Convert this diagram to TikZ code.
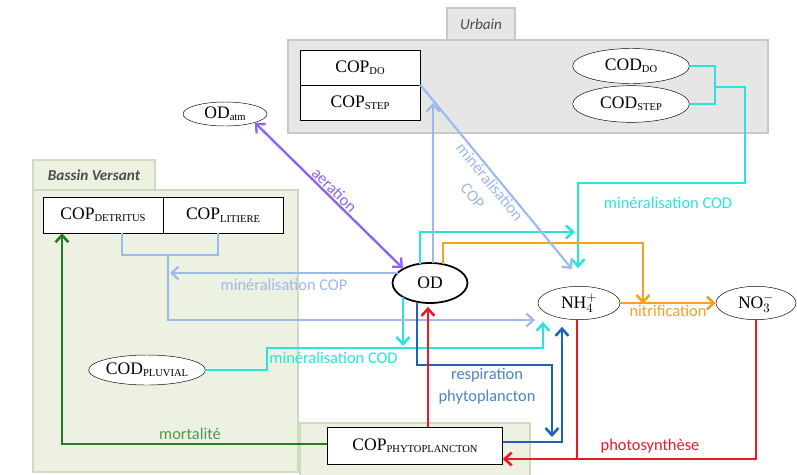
\documentclass[tikz,border=0pt]{standalone}
\usepackage{fontspec}
\setmainfont{Liberation Serif}
\newfontfamily\labfont{Carlito}
\usepackage{tikz}
\usetikzlibrary{shapes, arrows.meta, calc}

\definecolor{cyanf}{RGB}{40,228,222}
\definecolor{bleuclair}{RGB}{155,185,235}
\definecolor{orangef}{RGB}{245,160,35}
\definecolor{bleufonce}{RGB}{30,100,180}
\definecolor{rougef}{RGB}{235,25,35}
\definecolor{vertf}{RGB}{35,125,35}
\definecolor{violetf}{RGB}{140,100,240}
\definecolor{grisfond}{RGB}{230,230,230}
\definecolor{grisbord}{RGB}{200,200,200}
\definecolor{vertfond}{RGB}{237,241,226}
\definecolor{vertbord}{RGB}{208,218,190}

\newcommand{\ix}[1]{\raisebox{-0.3ex}{\fontsize{9}{10}\selectfont #1}}

\begin{document}
\begin{tikzpicture}[x=0.03cm, y=-0.03cm,
	etat/.style={ellipse, draw, fill=white, inner sep=0pt, font=\fontsize{15}{17}\selectfont},
	boite/.style={rectangle, draw, fill=white, inner sep=0pt, font=\fontsize{15}{17}\selectfont},
	lien/.style={line width=2.2pt},
	flux/.style={line width=2.2pt, -{Straight Barb[length=6pt,width=11pt]}},
	fluxb/.style={line width=1.8pt, bleuclair, -{Straight Barb[length=6pt,width=11pt]}},
	etiq/.style={font=\labfont\fontsize{14}{19}\selectfont, align=center, inner sep=1pt},
	onglet/.style={line width=1pt, inner sep=0pt, font=\labfont\itshape\fontsize{13}{15}\selectfont, text=black!70}]

		\useasboundingbox (0,0) rectangle (797,474);

		% groupes
		\filldraw[fill=grisfond, draw=grisbord, line width=1pt] (288,40) rectangle (768,133);
		\node[onglet, fill=grisfond, draw=grisbord, minimum width=2.04cm, minimum height=0.96cm] (urbain) at (481,24) {Urbain};
		\filldraw[fill=vertfond, draw=vertbord, line width=1pt] (33,190) rectangle (298,472);
		\filldraw[fill=vertfond, draw=vertbord, line width=1pt] (300,423) rectangle (530,480);
		\node[onglet, fill=vertfond, draw=vertbord, minimum width=3.66cm, minimum height=0.9cm, font=\labfont\bfseries\itshape\fontsize{13}{15}\selectfont] (bassin) at (94,175) {Bassin Versant};

		% compartiments
		\node[boite, minimum width=3.6cm, minimum height=1.05cm] (copdo) at (360,67.5) {COP\ix{DO}};
		\node[boite, minimum width=3.6cm, minimum height=1.05cm] (copstep) at (360,102.5) {COP\ix{STEP}};
		\node[etat, minimum width=3.5cm, minimum height=1.05cm] (coddo) at (631,66) {COD\ix{DO}};
		\node[etat, minimum width=3.5cm, minimum height=1.1cm] (codstep) at (631,104) {COD\ix{STEP}};
		\node[etat, minimum width=2.52cm, minimum height=0.72cm] (odatm) at (225,114) {OD\ix{atm}};
		\node[boite, minimum width=3.6cm, minimum height=1.08cm] (copdet) at (103,215) {COP\ix{DETRITUS}};
		\node[boite, minimum width=3.6cm, minimum height=1.08cm] (coplit) at (223,215) {COP\ix{LITIERE}};
		\node[etat, line width=1.5pt, minimum width=2.25cm, minimum height=1.2cm] (od) at (430,283) {OD};
		\node[etat, minimum width=2.46cm, minimum height=1.0cm] (nh4) at (579,303) {NH\(_4^+\)};
		\node[etat, minimum width=2.4cm, minimum height=1.0cm] (no3) at (756,303) {NO\(_3^-\)};
		\node[etat, minimum width=3.5cm, minimum height=0.9cm] (codpl) at (147,370) {COD\ix{PLUVIAL}};
		\node[boite, minimum width=5.25cm, minimum height=1.11cm] (cop) at (415,446) {COP\ix{PHYTOPLANCTON}};

		% mineralisation COD
		\coordinate (cj) at (715,87);
		\draw[lien, cyanf] (coddo.east) -| (cj) |- (codstep.east);
		\draw[flux, cyanf] (cj) -| (745,183) -| ($(nh4.north)+(-1,-18)$);
		\draw[flux, cyanf] ($(od.center)+(-10,-19)$) |- (575,232);
		\draw[flux, cyanf] (codpl.east) -| (267,348) -| ($(nh4.south)+(-36,2)$);
		\draw[flux, cyanf] ($(od.center)+(-27,14)$) -- (403,346);

		% nitrification
		\draw[flux, orangef] ($(od.center)+(13,-19)$) |- (643,243) -- (643,304);
		\draw[flux, orangef] (nh4.east) -- (no3.west) node[etiq, midway, below, text=orangef] (lnit) {nitrification};

		% aeration
		\draw[line width=2pt, violetf, {Straight Barb[length=6pt,width=11pt]}-{Straight Barb[length=6pt,width=11pt]}] (odatm.south east) -- (od.north west) node[etiq, midway, sloped, above, text=violetf] (laer) {aeration};

		% mineralisation COP
		\draw[fluxb] (copstep.north east) -- ($(nh4.north)+(-7,-17)$) node[etiq, midway, sloped, below, text=bleuclair] (lcop1) {minéralisation\\COP};
		\draw[fluxb] ($(od.center)+(3,-20)$) -- (433,103);
		\draw[fluxb] ($(od.center)+(-32,-10)$) -- (170,273) node[etiq, midway, below=3pt, text=bleuclair] (lcop2) {minéralisation COP};
		\coordinate (brk) at (168,255);
		\draw[line width=1.8pt, bleuclair] ($(copdet.south)+(19,0)$) |- (brk) -| ($(coplit.south)+(-5,0)$);
		\draw[fluxb] (brk) |- (535,320);

		% respiration
		\draw[flux, bleufonce] ($(od.center)+(-13,19)$) |- (552,365) -- (552,437);
		\draw[flux, bleufonce] ($(cop.east)+(0,-4)$) -| ($(nh4.south)+(-17,7)$);

		% photosynthese
		\draw[flux, rougef] ($(cop.north)+(13,0)$) -- ($(od.south)+(-2,3)$);
		\draw[lien, rougef] ($(nh4.south)+(-2,0)$) -- ++(0,139);
		\draw[flux, rougef] (no3.south) |- ($(cop.east)+(0,13)$);

		% mortalite
		\draw[flux, vertf] ($(cop.west)+(0,-2)$) -| ($(copdet.south)+(-41,0)$);

		% etiquettes
		\node[etiq, text=cyanf] (lcod1) at (668,203) {minéralisation COD};
		\node[etiq, text=cyanf, anchor=north west] (lcod2) at (268,351) {minéralisation COD};
		\node[etiq, text=bleufonce!80] (lresp) at (487,386) {respiration\\phytoplancton};
		\node[etiq, text=vertf!80] (lmort) at (190,434) {mortalité};
		\node[etiq, text=rougef] (lphot) at (650,446) {photosynthèse};
	\end{tikzpicture}
\end{document}
